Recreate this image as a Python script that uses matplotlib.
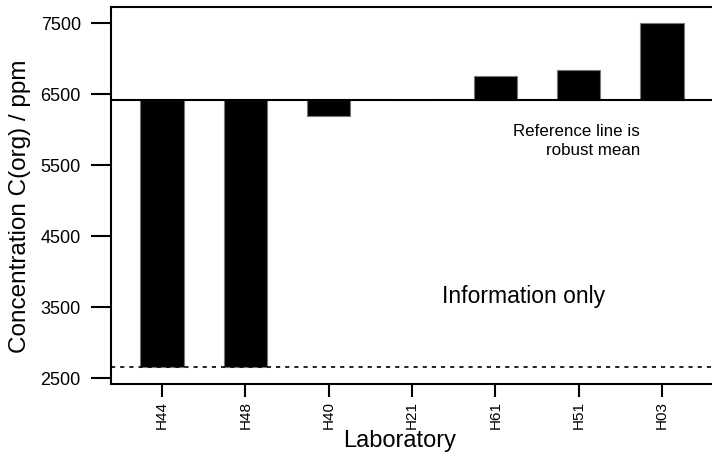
import numpy as np
import matplotlib
matplotlib.use("Agg")
import matplotlib.pyplot as plt

plt.rcParams['font.family'] = ['Liberation Sans', 'DejaVu Sans']

# data
labs = ["H44", "H48", "H40", "H21", "H61", "H51", "H03"]
values = [2659, 2659, 6190, 6420, 6754, 6846, 7509]
robust_mean = 6420
lower_limit = 2659
yticks = [2500, 3500, 4500, 5500, 6500, 7500]

W, H = 712, 457
fig = plt.figure(figsize=(W / 100, H / 100), dpi=100)
ax = fig.add_axes([110.7 / W, (H - 384) / H, 1 - 110.7 / W, (384 - 6.7) / H])

# bars hang from the reference line
x = np.arange(len(labs))
heights = [v - robust_mean for v in values]
ax.bar(x, heights, bottom=robust_mean, width=0.52, color='black',
       edgecolor='#777777', linewidth=0.8, zorder=2)

ax.axhline(robust_mean, color='black', lw=1.5, zorder=3)
ax.axhline(lower_limit, color='black', lw=1.2, ls=(0, (2.5, 3)), zorder=3)

ax.set_xlim(-0.616, 6.6)
ax.set_ylim(2420, 7734)
ax.set_yticks(yticks)
ax.set_yticklabels([str(t) for t in yticks], fontsize=13)
ax.set_xticks(x)
ax.set_xticklabels(labs, rotation=90, fontsize=11)

ax.tick_params(axis='y', length=14.5, width=1.5, pad=7)
ax.tick_params(axis='x', length=9.5, width=1.5, pad=3)
for side in ['left', 'bottom', 'top']:
    ax.spines[side].set_linewidth(1.5)
ax.spines['right'].set_visible(False)

fig.text(524 / W, 1 - 296.7 / H, "Information only", fontsize=16.5,
         ha='center', va='center')
fig.text(640 / W, 1 - 141 / H, "Reference line is\nrobust mean", fontsize=12.2,
         ha='right', va='center', multialignment='right', linespacing=1.35)

fig.text(20 / W, 1 - 206 / H, "Concentration C(org) / ppm", fontsize=17.5,
         rotation=90, ha='center', va='center')
fig.text(400 / W, 1 - 441 / H, "Laboratory", fontsize=17,
         ha='center', va='center')

fig.savefig("out.png", dpi=100)
